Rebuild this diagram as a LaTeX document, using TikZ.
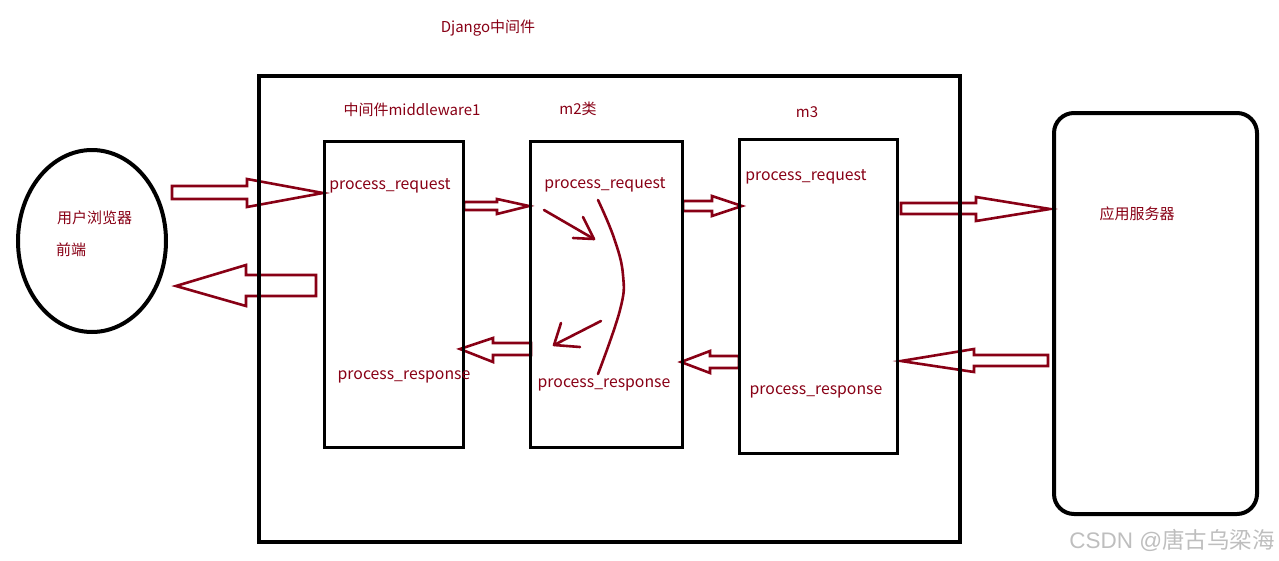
\documentclass[tikz,border=0pt]{standalone}
\usepackage{fontspec}
\setmainfont{Noto Sans CJK SC}
\newfontfamily\wmlatin{Liberation Sans}
\usetikzlibrary{shapes.geometric}
\definecolor{dred}{RGB}{136,0,21}
\definecolor{wm}{RGB}{190,190,190}
\begin{document}
\begin{tikzpicture}[x=1pt,y=-1pt,
  lbl/.style={text=dred, font=\fontsize{15}{17}\selectfont, inner sep=0pt},
  plbl/.style={text=dred, font=\fontsize{15.8}{18}\selectfont, inner sep=0pt},
  blk/.style={draw=dred, line width=2.6pt, line join=miter},
  sketch/.style={draw=dred, line width=2.6pt, line cap=round, line join=round},
  box/.style={draw=black, line width=3pt, rectangle, inner sep=0pt},
  frame/.style={draw=black, line width=4.5pt, rectangle, inner sep=0pt}]
\useasboundingbox (0,0) rectangle (1279,560);

% hollow block arrows
\draw[blk] (172,186) -- (247,186) -- (247,179) -- (323,193) -- (247,207) -- (247,199) -- (172,199) -- cycle;
\draw[blk] (316,275) -- (246,275) -- (246,265) -- (176,286) -- (246,306) -- (246,296) -- (316,296) -- cycle;
\draw[blk] (464,202) -- (497,202) -- (497,199) -- (529,206) -- (497,214) -- (497,210) -- (464,210) -- cycle;
\draw[blk] (683,201) -- (712,201) -- (712,196) -- (742,206) -- (712,216) -- (712,211) -- (683,211) -- cycle;
\draw[blk] (531,343) -- (493,343) -- (493,338) -- (460,349) -- (493,362) -- (493,355) -- (531,355) -- cycle;
\draw[blk] (739,356) -- (710,356) -- (710,351) -- (681,362) -- (710,373) -- (710,368) -- (739,368) -- cycle;
\draw[blk] (901,203) -- (976,203) -- (976,197) -- (1050,209) -- (976,221) -- (976,214) -- (901,214) -- cycle;
\draw[blk] (1048,355) -- (974,355) -- (974,349) -- (901,361) -- (974,372) -- (974,366) -- (1048,366) -- cycle;

% frame and boxes
\node[frame, minimum width=701pt, minimum height=466pt] (frame) at (609.5,309) {};
\node[box, minimum width=139pt, minimum height=306pt] (m1) at (393.5,294) {};
\node[box, minimum width=152pt, minimum height=306pt] (m2) at (606,294) {};
\node[box, minimum width=158pt, minimum height=314pt] (m3) at (818,296) {};
\node[draw=black, line width=4pt, rounded corners=20pt, minimum width=203pt, minimum height=401pt, inner sep=0pt] (server) at (1155.5,313.5) {};
\node[draw=black, line width=4pt, ellipse, minimum width=148pt, minimum height=182pt, inner sep=0pt] (browser) at (92,241) {};

% hand-drawn flow inside m2
\draw[sketch] plot[smooth, tension=0.7] coordinates {(598,200) (614,238) (623,275) (620,310) (598,374)};
\coordinate (a1s) at (544,210);
\coordinate (a1t) at (594,239);
\draw[sketch] (a1s) -- (a1t);
\draw[sketch] (583,217) -- (a1t) -- (573,238);
\coordinate (a2s) at (601,321);
\coordinate (a2t) at (554,345);
\draw[sketch] (a2s) -- (a2t);
\draw[sketch] (561,323) -- (a2t) -- (580,347);

% labels
\node[lbl] (title) at (488,28) {Django中间件};
\node[lbl] (t1) at (412,110) {中间件middleware1};
\node[lbl] (t2) at (578,109) {m2类};
\node[lbl] (t3) at (807,112) {m3};
\node[plbl] (r1) at (390,186) {process\_request};
\node[plbl] (r2) at (605,185) {process\_request};
\node[plbl] (r3) at (806,177) {process\_request};
\node[plbl] (s1) at (404,377) {process\_response};
\node[plbl] (s2) at (604,385) {process\_response};
\node[plbl] (s3) at (816,392) {process\_response};
\node[lbl] (srv) at (1137,214) {应用服务器};
\node[lbl, anchor=west] (br1) at (57,218) {用户浏览器};
\node[lbl, anchor=west] (br2) at (56,250) {前端};
\node[text=wm, font=\fontsize{22.5}{24}\selectfont, inner sep=0pt, anchor=east] (wmk) at (1275,540) {{\wmlatin CSDN @}唐古乌梁海};
\end{tikzpicture}
\end{document}
